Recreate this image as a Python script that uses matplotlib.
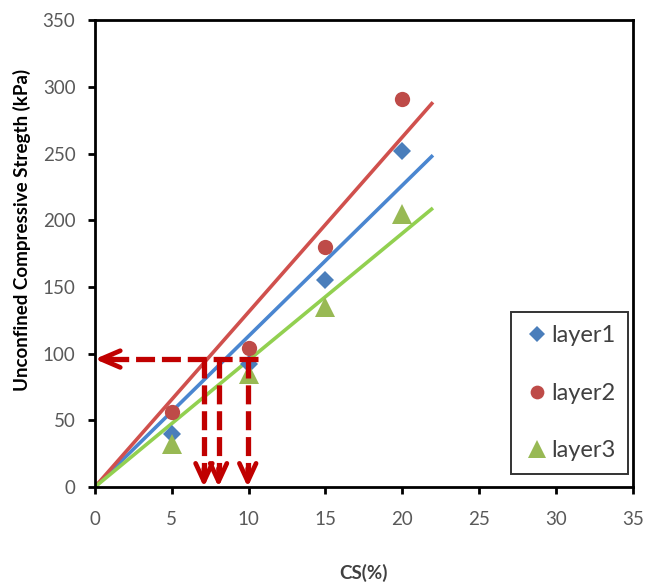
import numpy as np
import matplotlib
matplotlib.use("Agg")
import matplotlib.pyplot as plt

plt.rcParams['font.family'] = ['Lato', 'DejaVu Sans']

cs = [5, 10, 15, 20]
layer1 = [40, 92, 155, 252]
layer2 = [56, 104, 180, 291]
layer3 = [32, 85, 135, 205]
series_names = ["layer1", "layer2", "layer3"]
trend_end = 22
target_strength = 96
cs_read = [7.1, 8.05, 9.95]
h_arrow_start = 10.6

x_ticks = [0, 5, 10, 15, 20, 25, 30, 35]
y_ticks = [0, 50, 100, 150, 200, 250, 300, 350]

marker_colors = ["#4A7EBB", "#BE4B48", "#98B954"]
line_colors = ["#4A86D0", "#D0504D", "#92D050"]
markers = ["D", "o", "^"]
msizes = [8.8, 11, 14]

fig = plt.figure(figsize=(6.45, 5.84), dpi=100)
ax = fig.add_axes([0.147, 0.166, 0.834, 0.799])

x = np.array(cs, dtype=float)
xl = np.array([0, trend_end], dtype=float)
for vals, lc in zip([layer1, layer2, layer3], line_colors):
    y = np.array(vals, dtype=float)
    slope = np.sum(x * y) / np.sum(x * x)
    ax.plot(xl, slope * xl, color=lc, lw=2.6, zorder=2, solid_capstyle='butt')

handles = []
for vals, mc, m, ms, name in zip([layer1, layer2, layer3], marker_colors, markers, msizes, series_names):
    h, = ax.plot(cs, vals, linestyle='none', marker=m, color=mc, markersize=ms,
                 markeredgewidth=0, label=name, zorder=3)
    handles.append(h)

red = "#C00000"
dash = (0, (3.6, 1.3))
# horizontal dashed arrow
ax.plot([h_arrow_start, 0.6], [target_strength, target_strength], color=red, lw=3.8,
        linestyle=dash, zorder=4, solid_capstyle='butt', dash_capstyle='butt')
ax.annotate("", xy=(0.0, target_strength), xytext=(1.2, target_strength),
            arrowprops=dict(arrowstyle="->,head_length=1.4,head_width=0.6", color=red, lw=3.4,
                            shrinkA=0, shrinkB=0), zorder=4)
for c in cs_read:
    ax.plot([c, c], [target_strength, 12], color=red, lw=3.8,
            linestyle=dash, zorder=4, dash_capstyle='butt')
    ax.annotate("", xy=(c, 0.0), xytext=(c, 14),
                arrowprops=dict(arrowstyle="->,head_length=1.3,head_width=0.6", color=red, lw=3.4,
                                shrinkA=0, shrinkB=0), zorder=4)

ax.set_xlim(0, 35)
ax.set_ylim(0, 350)
ax.set_xticks(x_ticks)
ax.set_yticks(y_ticks)
ax.tick_params(direction='out', length=5, width=2.0, labelsize=13.5, colors='black',
               labelcolor='#595959', pad=9)
ax.tick_params(axis='x', pad=12)
for s in ax.spines.values():
    s.set_linewidth(2.0)

ax.set_xlabel("CS(%)", fontsize=13.5, fontweight='bold', labelpad=26, color='#404040')
ax.set_ylabel("Unconfined Compressive Stregth (kPa)", fontsize=13.5, fontweight='bold',
              labelpad=4, color='black')
ax.yaxis.set_label_coords(-0.118, 0.55)

leg = ax.legend(handles=handles, loc='lower right', bbox_to_anchor=(0.992, 0.027),
                fontsize=17, frameon=True, fancybox=False, edgecolor='black',
                handletextpad=0.05, labelspacing=1.55, borderpad=0.55, handlelength=1.1,
                markerscale=0.9, borderaxespad=0)
leg.get_frame().set_linewidth(1.4)
for t in leg.get_texts():
    t.set_color('#404040')

fig.savefig("out.png", dpi=100)
